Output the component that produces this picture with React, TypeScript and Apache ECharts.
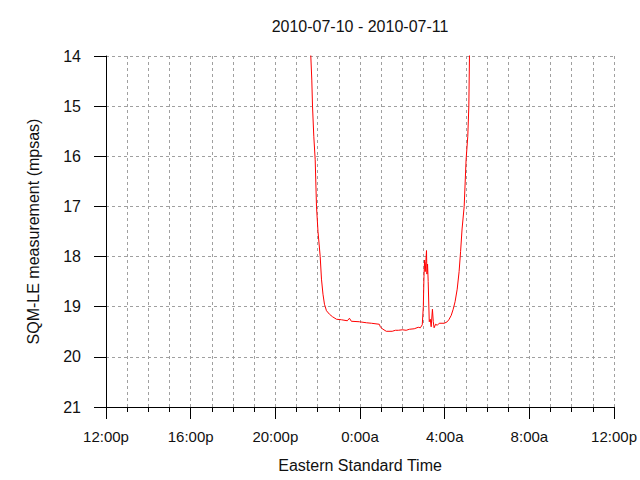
import React, { useEffect, useRef } from "react";
import * as echarts from "echarts";

// Hours elapsed since 2010-07-10 12:00 (Eastern Standard Time)
const hoursSinceNoon: number[] = [
  9.61, 9.675, 9.722, 9.755, 9.816, 9.882, 9.943, 10.014, 10.118, 10.179,
  10.25, 10.32, 10.415, 10.556, 10.7, 10.89, 11.12, 11.4, 11.5, 11.59,
  11.97, 12.3, 12.54, 12.91, 12.96, 13.05, 13.24, 13.52, 13.67, 13.81,
  14.0, 14.18, 14.33, 14.56, 14.75, 14.85, 14.94, 14.99, 15.02, 15.05,
  15.08, 15.11, 15.14, 15.16, 15.19, 15.22, 15.27, 15.32, 15.36, 15.42,
  15.46, 15.5, 15.57, 15.65, 15.74, 15.98, 16.12, 16.21, 16.31, 16.4,
  16.49, 16.59, 16.68, 16.75, 16.82, 16.92, 17.01, 17.09, 17.14, 17.17,
  17.2,
];
// SQM-LE sky brightness readings (mpsas)
const sqmValues: number[] = [
  12.0, 14.0, 14.48, 15.0, 15.6, 16.07, 17.0, 17.5, 18.0, 18.45,
  18.75, 18.95, 19.08, 19.15, 19.2, 19.25, 19.26, 19.28, 19.23, 19.29,
  19.3, 19.32, 19.33, 19.35, 19.4, 19.44, 19.49, 19.49, 19.47, 19.47,
  19.46, 19.47, 19.45, 19.44, 19.41, 19.42, 19.36, 19.0, 18.4, 18.07,
  18.3, 18.1, 17.88, 18.35, 18.15, 18.5, 19.3, 19.25, 19.4, 19.05,
  19.3, 19.42, 19.35, 19.37, 19.33, 19.33, 19.3, 19.25, 19.17, 19.05,
  18.9, 18.65, 18.3, 17.9, 17.45, 17.0, 16.07, 15.6, 15.0, 14.0,
  13.0,
];

const titleText = "2010-07-10 - 2010-07-11";
const xAxisTitle = "Eastern Standard Time";
const yAxisTitle = "SQM-LE measurement (mpsas)";
const yMin = 14;
const yMax = 21;
const xMin = 0;
const xMax = 24;

const FONT = "Liberation Sans, Arial, sans-serif";

function formatHour(h: number): string {
  const hh = (12 + Math.round(h)) % 24;
  return hh + ":00" + (hh < 12 ? "a" : "p");
}

export default function App() {
  const ref = useRef<HTMLDivElement>(null);
  useEffect(() => {
    if (!ref.current) return;
    const chart = echarts.init(ref.current, null, { renderer: "svg" });
    const data = hoursSinceNoon.map((h, i) => [h, sqmValues[i]]);
    const gridLine = { lineStyle: { color: "#a0a0a0", type: [3, 3], width: 1 } };
    chart.setOption({
      animation: false,
      backgroundColor: "#ffffff",
      textStyle: { fontFamily: FONT },
      graphic: [
        {
          type: "text",
          x: 360,
          y: 26,
          style: {
            text: titleText,
            fill: "#111",
            font: "16px " + FONT,
            align: "center",
            verticalAlign: "middle",
          },
        },
      ],
      grid: { left: 106, right: 25, top: 56, bottom: 73 },
      xAxis: {
        type: "value",
        min: xMin,
        max: xMax,
        interval: 4,
        name: xAxisTitle,
        nameLocation: "middle",
        nameGap: 50,
        nameTextStyle: { fontSize: 16, color: "#111", fontFamily: FONT },
        axisLine: { show: true, onZero: false, lineStyle: { color: "#000", width: 1 } },
        axisTick: { show: true, length: 12, lineStyle: { color: "#000" } },
        minorTick: { show: true, splitNumber: 4, length: 5, lineStyle: { color: "#000" } },
        axisLabel: {
          margin: 22,
          fontSize: 15,
          color: "#111",
          fontFamily: FONT,
          formatter: (v: number) => formatHour(v),
        },
        splitLine: { show: true, ...gridLine },
        minorSplitLine: { show: true, ...gridLine },
      },
      yAxis: {
        type: "value",
        inverse: true,
        min: yMin,
        max: yMax,
        interval: 1,
        name: yAxisTitle,
        nameLocation: "middle",
        nameGap: 65,
        nameRotate: 90,
        nameTextStyle: { fontSize: 16, color: "#111", fontFamily: FONT },
        axisLine: { show: true, onZero: false, lineStyle: { color: "#000", width: 1 } },
        axisTick: { show: true, length: 12, lineStyle: { color: "#000" } },
        axisLabel: { margin: 25, fontSize: 16, color: "#111", fontFamily: FONT },
        splitLine: { show: true, ...gridLine },
      },
      series: [
        {
          type: "line",
          data,
          showSymbol: false,
          symbol: "none",
          clip: true,
          lineStyle: { color: "#ff0000", width: 1 },
          itemStyle: { color: "#ff0000" },
        },
      ],
    });
    return () => chart.dispose();
  }, []);
  return (
    <div
      ref={ref}
      style={{ position: "absolute", left: 0, top: 0, width: 640, height: 480 }}
    />
  );
}
